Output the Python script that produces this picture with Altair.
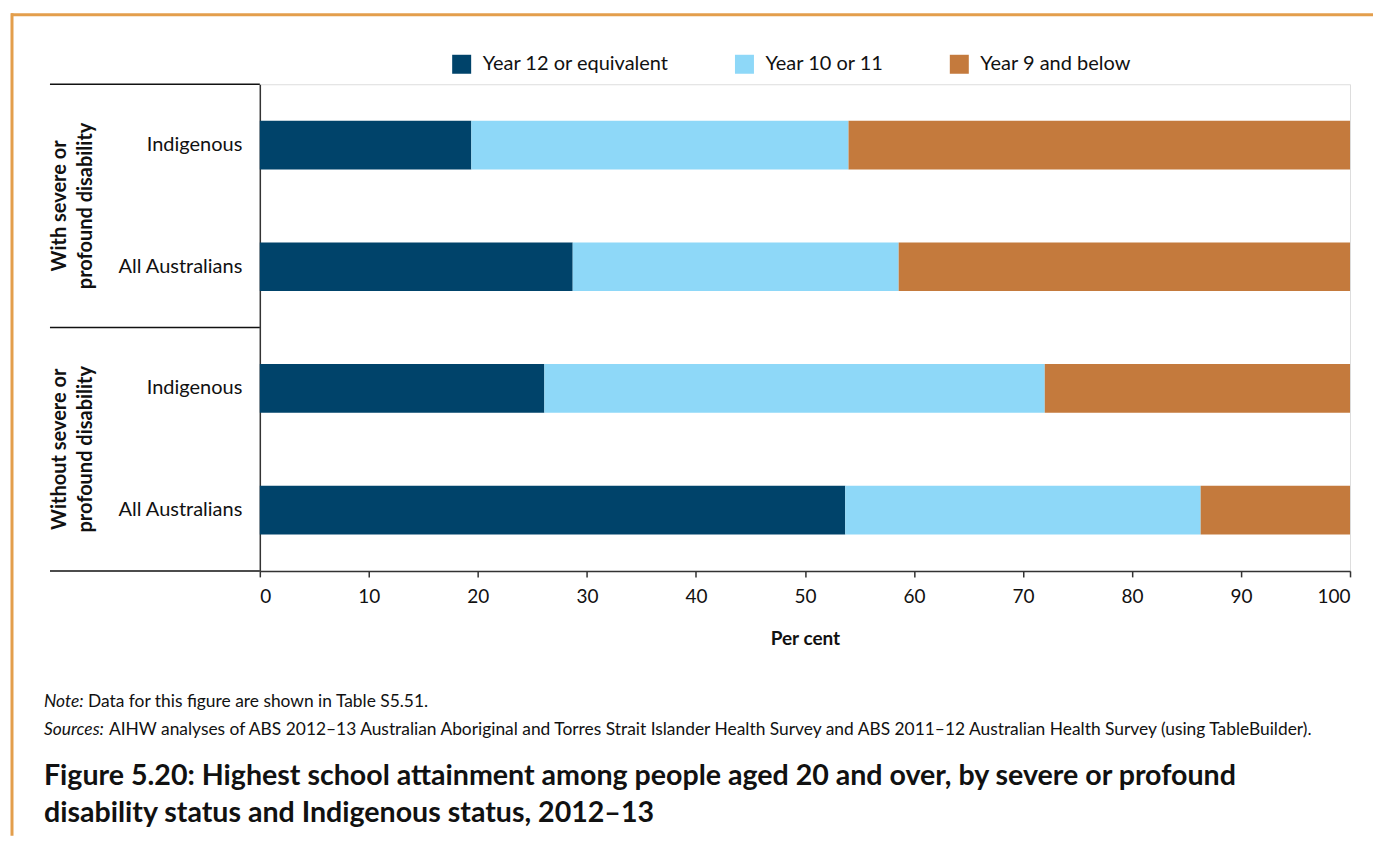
import altair as alt
import pandas as pd

# ---- data ----
groups = ["With severe or profound disability", "With severe or profound disability",
          "Without severe or profound disability", "Without severe or profound disability"]
populations = ["Indigenous", "All Australians", "Indigenous", "All Australians"]
levels = ["Year 12 or equivalent", "Year 10 or 11", "Year 9 and below"]
year12 = [19.4, 28.7, 26.1, 53.7]
year10_11 = [34.6, 29.9, 45.9, 32.6]
year9_below = [46.0, 41.4, 28.0, 13.7]
colors = ["#00436A", "#8ED8F8", "#C47A3D"]
x_ticks = [0, 10, 20, 30, 40, 50, 60, 70, 80, 90, 100]
group_labels = [["With severe or", "profound disability"], ["Without severe or", "profound disability"]]
note_label = "Note:"
note_text = "Data for this figure are shown in Table S5.51."
sources_label = "Sources:"
sources_text = ("AIHW analyses of ABS 2012\u201313 Australian Aboriginal and Torres Strait Islander Health Survey "
                "and ABS 2011\u201312 Australian Health Survey (using TableBuilder).")
fig_title = ["Figure 5.20: Highest school attainment among people aged 20 and over, by severe or profound",
             "disability status and Indigenous status, 2012\u201313"]

FONT = "Lato"
W, H = 1091, 487

rows = []
row_keys = []
for g, p, a, b, c in zip(groups, populations, year12, year10_11, year9_below):
    key = f"{g}|{p}"
    row_keys.append(key)
    for i, (lvl, v) in enumerate(zip(levels, [a, b, c])):
        rows.append({"row": key, "level": lvl, "value": v, "ord": i})
df = pd.DataFrame(rows)

one = pd.DataFrame({"k": [0]})

bars = alt.Chart(df).mark_bar().encode(
    x=alt.X("value:Q", stack="zero",
            scale=alt.Scale(domain=[0, 100], nice=False, zero=True),
            axis=alt.Axis(values=x_ticks, title="Per cent", grid=False,
                          domainColor="#333333", domainWidth=1.5,
                          tickColor="#333333", tickWidth=1.5, tickSize=6,
                          labelFont=FONT, labelFontSize=19, labelColor="#111111",
                          labelPadding=11, titleFont=FONT, titleFontSize=19,
                          titleFontWeight="bold", titleColor="#111111", titlePadding=23)),
    y=alt.Y("row:N", sort=row_keys,
            scale=alt.Scale(paddingInner=0.6, paddingOuter=0.3),
            axis=alt.Axis(title=None, ticks=False, labelExpr="split(datum.label, '|')[1]",
                          domainColor="#333333", domainWidth=1.5,
                          labelFont=FONT, labelFontSize=20, labelColor="#111111",
                          labelPadding=18, labelLimit=0)),
    color=alt.Color("level:N", scale=alt.Scale(domain=levels, range=colors),
                    legend=alt.Legend(orient="none", legendX=192, legendY=-30,
                                      direction="horizontal", title=None,
                                      symbolType="square", symbolSize=361,
                                      symbolStrokeWidth=0, symbolOpacity=1,
                                      labelFont=FONT, labelFontSize=20, labelColor="#111111",
                                      labelLimit=0,
                                      labelOffset=11, columnPadding=65, padding=0)),
    order=alt.Order("ord:Q"),
)

def rule(x1, x2, y1, y2, color="#111111", width=1.5):
    return alt.Chart(one).mark_rule(color=color, strokeWidth=width).encode(
        x=alt.value(x1), x2=alt.value(x2), y=alt.value(y1), y2=alt.value(y2))

layers = [bars]
# group separator lines in the label column
for yy in [0, H / 2, H]:
    layers.append(rule(-210, 0, yy, yy))
# orange frame
layers.append(rule(-249, 1114, -69.5, -69.5, color="#E39E4C", width=3))
layers.append(rule(-248, -248, -71, 752, color="#E39E4C", width=3))

# group labels
for i, lab in enumerate(group_labels):
    layers.append(alt.Chart(one).mark_text(
        angle=270, font=FONT, fontSize=20, fontWeight="bold", color="#111111",
        align="center", baseline="middle", lineHeight=26).encode(
        x=alt.value(-200), y=alt.value(H / 4 + i * H / 2), text=alt.value(lab)))

def txt(s, x, y, size, style="normal", weight="normal", lh=None):
    kw = dict(font=FONT, fontSize=size, fontStyle=style, fontWeight=weight, color="#111111",
              align="left", baseline="alphabetic")
    if lh:
        kw["lineHeight"] = lh
    return alt.Chart(one).mark_text(**kw).encode(x=alt.value(x), y=alt.value(y), text=alt.value(s))

layers.append(txt(note_label, -216, 623, 17.4, style="italic"))
layers.append(txt(note_text, -172, 623, 17.4))
layers.append(txt(sources_label, -216, 651, 17.4, style="italic"))
layers.append(txt(sources_text, -151, 651, 17.4))
layers.append(txt(fig_title, -216, 701, 28.6, weight="bold", lh=37))

chart = alt.layer(*layers).properties(
    width=W, height=H,
    padding={"left": 1, "top": 3, "right": 0, "bottom": 0},
).configure_view(stroke=None).configure(background="white")

chart.save("out.html", embed_options={"renderer": "svg", "actions": False})
